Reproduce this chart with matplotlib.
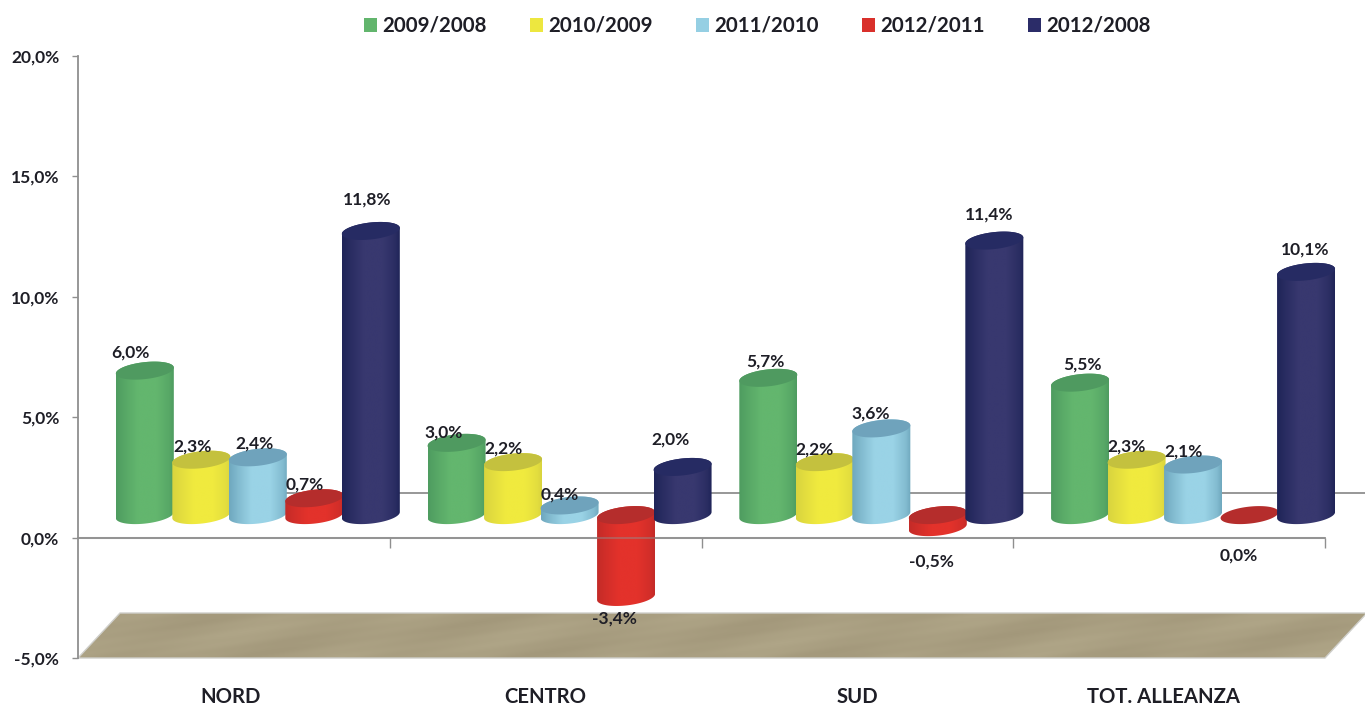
import numpy as np
import matplotlib
matplotlib.use("Agg")
import matplotlib.pyplot as plt
from matplotlib.patches import Polygon, Patch
from matplotlib.colors import to_rgb

# ---------- data ----------
categories = ["NORD", "CENTRO", "SUD", "TOT. ALLEANZA"]
series_names = ["2009/2008", "2010/2009", "2011/2010", "2012/2011", "2012/2008"]
v_2009_2008 = [6.0, 3.0, 5.7, 5.5]
v_2010_2009 = [2.3, 2.2, 2.2, 2.3]
v_2011_2010 = [2.4, 0.4, 3.6, 2.1]
v_2012_2011 = [0.7, -3.4, -0.5, 0.0]
v_2012_2008 = [11.8, 2.0, 11.4, 10.1]
series_values = [v_2009_2008, v_2010_2009, v_2011_2010, v_2012_2011, v_2012_2008]
y_ticks = [-5, 0, 5, 10, 15, 20]

# ---------- styles ----------
body_colors = ["#63B66E", "#F0EA3E", "#9AD3E6", "#E3322B", "#38386F"]
edge_colors = ["#4E9C60", "#D9D43F", "#6FA8BE", "#C42B28", "#1F2458"]
cap_colors = ["#4F9A60", "#C4C13E", "#6FA3BC", "#B52D2C", "#262B63"]
legend_colors = ["#62B56D", "#EDE73F", "#95CFE3", "#D9302B", "#2B2C68"]
floor_light = "#B0A688"
floor_dark = "#A2977A"
axis_color = "#8F8F8F"
text_color = "#1E1E26"

# label offsets in pixels from the end of each bar, per category then per series
label_dx = [[-14, -9, -3, -10, -4], [-13, -10, -10, -12, -12],
            [-3, -10, -11, -6, -5], [2, -10, -10, -11, -1]]
label_dy = [[18, 13, 14, 14, 31], [10, 14, 11, -22, 27],
            [16, 13, 15, -34, 26], [18, 13, 13, -40, 22]]
# category label shift in pixels
cat_dx = [-3, 0, 0, -6]

plt.rcParams["font.family"] = ["Lato", "DejaVu Sans"]
plt.rcParams["font.weight"] = "bold"

W, H = 1365, 705
fig = plt.figure(figsize=(W / 100, H / 100), dpi=100, facecolor="white")
ax = fig.add_axes([78 / W, (H - 658) / H, (1325 - 78) / W, (658 - 56) / H])
ax.set_facecolor("none")

px_x = 4 / (1325 - 78)
px_y = 25 / (658 - 56)
depth_x, depth_y = 42 * px_x, 45 * px_y  # floor/back-wall depth

# floor with a faint diagonal wood-like grain
floor_pts = [(0, -5), (4, -5), (4 + depth_x, -5 + depth_y), (depth_x, -5 + depth_y)]
floor_clip = Polygon(floor_pts, closed=True, transform=ax.transData)
yy, xx = np.mgrid[0:45, 0:1300]
grain = 0.5 + 0.38 * np.sin((xx + 4 * yy) / 31.0) * np.sin((xx - 2 * yy) / 83.0) + 0.06 * np.sin((xx + 7 * yy) / 11.0)
grain = grain[:, :, None]
floor_rgb = (1 - grain) * np.array(to_rgb(floor_dark)) + grain * np.array(to_rgb(floor_light))
fim = ax.imshow(floor_rgb, extent=[0, 4 + depth_x, -5, -5 + depth_y], aspect="auto",
                interpolation="bilinear", zorder=1)
fim.set_clip_box(fig.bbox)
fim.set_clip_path(floor_clip)
ax.add_patch(Polygon(floor_pts, closed=True, fc="none", ec="#CFCFCB", lw=1.0, zorder=1.1, clip_on=False))
# back wall base line
ax.plot([depth_x, 4 + depth_x], [depth_y, depth_y], color=axis_color, lw=1.3, zorder=1.5, clip_on=False)

# cylinders
a = 29 * px_x
b = 8.5 * px_y
k = 3 * px_y
spacing = 56.5 * px_x
off_x, off_y = depth_x * 0.57, depth_y * 0.5


def arc(cx, cy, t0, t1, n=40):
    t = np.linspace(t0, t1, n)
    return np.column_stack([cx + a * np.cos(t), cy + b * np.sin(t) + k * np.cos(t)])


z = 3.0
for c in range(len(categories)):
    centre = c + 0.5 + off_x
    for s in range(len(series_names)):
        v = series_values[s][c]
        x = centre + (s - 2) * spacing
        top = off_y + max(v, 0)
        bot = off_y + min(v, 0)
        z += 0.1
        if top > bot:
            outline = np.vstack([arc(x, bot, np.pi, 2 * np.pi), arc(x, top, 0, np.pi)])
            poly = Polygon(outline, closed=True, transform=ax.transData)
            g = np.array([0, 0.16, 0.38, 0.7, 0.92, 1.0])
            w = np.array([1.0, 0.55, 0.0, 0.0, 0.55, 1.0])
            gx = np.linspace(0, 1, 120)
            mix = np.interp(gx, g, w)[:, None]
            rgb = (1 - mix) * np.array(to_rgb(body_colors[s])) + mix * np.array(to_rgb(edge_colors[s]))
            im = ax.imshow(rgb[None, :, :], extent=[x - a, x + a, bot - 2 * b, top + 2 * b],
                           aspect="auto", interpolation="bilinear", zorder=z)
            im.set_clip_box(fig.bbox)
            im.set_clip_path(poly)
        cap = arc(x, top, 0, 2 * np.pi, 80)
        ax.add_patch(Polygon(cap, closed=True, fc=cap_colors[s], ec="none", zorder=z + 0.01, clip_on=False))

# zero axis shows faintly through the bar that crosses it
ax.plot([0, 4], [0, 0], color=axis_color, lw=1.5, alpha=0.45, zorder=z + 0.5)

# value labels
for c in range(len(categories)):
    centre = c + 0.5 + off_x
    for s in range(len(series_names)):
        v = series_values[s][c]
        x = centre + (s - 2) * spacing
        end = off_y + v
        ax.annotate(f"{v:.1f}%".replace(".", ","), (x, end),
                    xytext=(label_dx[c][s], label_dy[c][s]), textcoords="offset pixels",
                    ha="center", va="center", fontsize=12.5, color=text_color,
                    zorder=z + 1, annotation_clip=False)

# axes
ax.set_xlim(0, 4)
ax.set_ylim(-5, 20)
for name in ("top", "right"):
    ax.spines[name].set_visible(False)
for name in ("left", "bottom"):
    ax.spines[name].set_color(axis_color)
    ax.spines[name].set_linewidth(1.3)
ax.spines["bottom"].set_position(("data", 0))
ax.spines["bottom"].set_zorder(2)
ax.spines["left"].set_zorder(2)

ax.set_yticks(y_ticks)
ax.set_yticklabels([f"{t:.1f}%".replace(".", ",") for t in y_ticks], fontsize=12.5, color=text_color)
ax.tick_params(axis="y", length=4.5, width=1, color=axis_color, pad=9)

ax.set_xticks(np.arange(len(categories)) + 0.5 + np.array(cat_dx) * px_x)
ax.set_xticklabels(categories, fontsize=14.6, color=text_color)
ax.tick_params(axis="x", which="major", length=0, pad=107.5)
ax.set_xticks(np.arange(1, len(categories) + 1), minor=True)
ax.tick_params(axis="x", which="minor", length=7, width=1, color=axis_color)

# legend
handles = [Patch(fc=col, ec="none", label=n) for col, n in zip(legend_colors, series_names)]
leg = fig.legend(handles=handles, loc="center", bbox_to_anchor=(757 / W, 1 - 26 / H), ncol=5,
                 frameon=False, fontsize=14.8, handlelength=0.64, handleheight=0.64,
                 handletextpad=0.25, columnspacing=2.1, labelcolor=text_color,
                 borderpad=0, borderaxespad=0)

fig.savefig("out.png", dpi=100, facecolor="white")
